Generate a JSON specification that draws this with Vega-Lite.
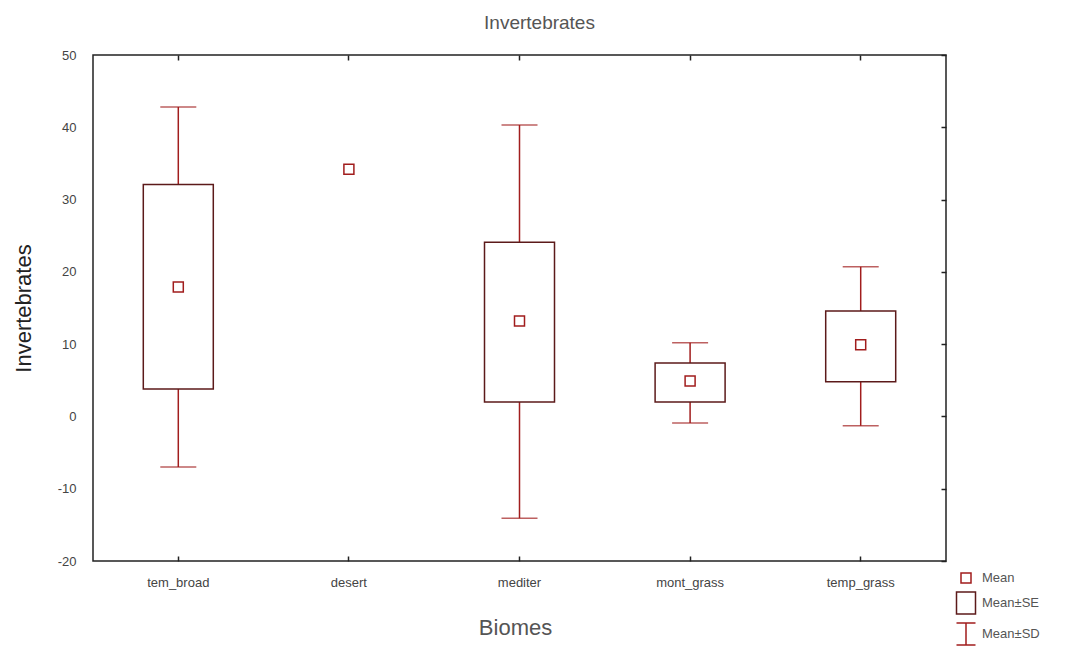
{
  "$schema": "https://vega.github.io/schema/vega-lite/v6.json",
  "width": 853,
  "height": 506,
  "autosize": {"type": "none"},
  "padding": {"left": 93, "top": 55, "right": 130, "bottom": 89},
  "background": "white",
  "title": {"text": "Invertebrates", "font": "Liberation Sans", "fontSize": 19, "fontWeight": "normal", "color": "#555555", "offset": 16, "anchor": "middle", "dx": 20},
  "config": {
    "view": {"stroke": "#222222", "strokeWidth": 1.5},
    "axis": {"grid": false, "domain": false, "labelFont": "Liberation Sans", "labelColor": "#444444", "titleFont": "Liberation Sans", "tickColor": "#222222"}
  },
  "data": {"values": [
    {"biome": "tem_broad", "mean": 17.9, "se_lo": 3.8, "se_hi": 32.1, "sd_lo": -7.0, "sd_hi": 42.8},
    {"biome": "desert", "mean": 34.2, "se_lo": null, "se_hi": null, "sd_lo": null, "sd_hi": null},
    {"biome": "mediter", "mean": 13.2, "se_lo": 2.0, "se_hi": 24.1, "sd_lo": -14.1, "sd_hi": 40.3},
    {"biome": "mont_grass", "mean": 4.9, "se_lo": 2.0, "se_hi": 7.4, "sd_lo": -0.9, "sd_hi": 10.2},
    {"biome": "temp_grass", "mean": 9.9, "se_lo": 4.8, "se_hi": 14.6, "sd_lo": -1.3, "sd_hi": 20.7}
  ]},
  "resolve": {"axis": {"x": "independent", "y": "independent"}},
  "layer": [
    {
      "mark": {"type": "rule", "color": "#a11d1d", "strokeWidth": 1.5},
      "encoding": {
        "x": {"field": "biome", "type": "nominal", "sort": null, "scale": {"domain": ["tem_broad", "desert", "mediter", "mont_grass", "temp_grass"], "paddingInner": 0, "paddingOuter": 0},
              "axis": {"orient": "bottom", "title": "Biomes", "labelAngle": 0, "labelFontSize": 13, "labelPadding": 20, "tickSize": -5, "tickWidth": 1.5, "titleFontSize": 22, "titleFontWeight": "normal", "titleColor": "#555555", "titlePadding": 28, "titleX": 422}},
        "y": {"field": "sd_lo", "type": "quantitative", "scale": {"domain": [-20, 50], "nice": false, "zero": false},
              "axis": {"orient": "left", "title": "Invertebrates", "values": [-20, -10, 0, 10, 20, 30, 40, 50], "labelExpr": "replace(datum.label, '\u2212', '-')", "ticks": false, "labelFontSize": 13, "labelPadding": 17, "titleFontSize": 22, "titleFontWeight": "normal", "titleColor": "#222222", "titlePadding": 22}},
        "y2": {"field": "sd_hi"}
      }
    },
    {
      "mark": {"type": "tick", "color": "#a11d1d", "size": 36, "thickness": 1.5, "orient": "horizontal"},
      "encoding": {
        "x": {"field": "biome", "type": "nominal", "sort": null,
              "axis": {"orient": "top", "title": null, "labels": false, "tickSize": -5, "tickWidth": 1.5}},
        "y": {"field": "sd_hi", "type": "quantitative",
              "axis": {"orient": "right", "title": null, "labels": false, "values": [-20, -10, 0, 10, 20, 30, 40, 50], "tickSize": -5, "tickWidth": 1.5}}
      }
    },
    {
      "mark": {"type": "tick", "color": "#a11d1d", "size": 36, "thickness": 1.5, "orient": "horizontal"},
      "encoding": {
        "x": {"field": "biome", "type": "nominal", "sort": null, "axis": null},
        "y": {"field": "sd_lo", "type": "quantitative", "axis": null}
      }
    },
    {
      "mark": {"type": "bar", "size": 70, "fill": "white", "stroke": "#5c1a1a", "strokeWidth": 1.5},
      "encoding": {
        "x": {"field": "biome", "type": "nominal", "sort": null, "axis": null},
        "y": {"field": "se_lo", "type": "quantitative", "axis": null},
        "y2": {"field": "se_hi"}
      }
    },
    {
      "mark": {"type": "point", "filled": false, "size": 400, "strokeWidth": 1.5, "opacity": 1},
      "encoding": {
        "x": {"field": "biome", "type": "nominal", "sort": null, "axis": null},
        "y": {"field": "mean", "type": "quantitative", "axis": null},
        "shape": {"datum": "Mean", "scale": {"domain": ["Mean", "Mean±SE", "Mean±SD"], "range": ["M-0.5,-0.5H0.5V0.5H-0.5Z", "M-0.95,-1.1H0.95V1.1H-0.95Z", "M-0.95,-1.1H0.95M0,-1.1V1.1M-0.95,1.1H0.95"]},
                  "legend": {"title": null, "orient": "none", "legendX": 862, "legendY": 512, "symbolSize": 400, "symbolStrokeWidth": 1.5, "labelFont": "Liberation Sans", "labelFontSize": 13, "labelColor": "#555555", "rowPadding": 3, "labelOffset": 5}},
        "stroke": {"datum": "Mean", "scale": {"domain": ["Mean", "Mean±SE", "Mean±SD"], "range": ["#a11d1d", "#5c1a1a", "#a11d1d"]}, "legend": {"title": null, "orient": "none", "legendX": 862, "legendY": 512, "symbolSize": 400, "symbolStrokeWidth": 1.5, "labelFont": "Liberation Sans", "labelFontSize": 13, "labelColor": "#555555", "rowPadding": 3, "labelOffset": 5}}
      }
    }
  ]
}
